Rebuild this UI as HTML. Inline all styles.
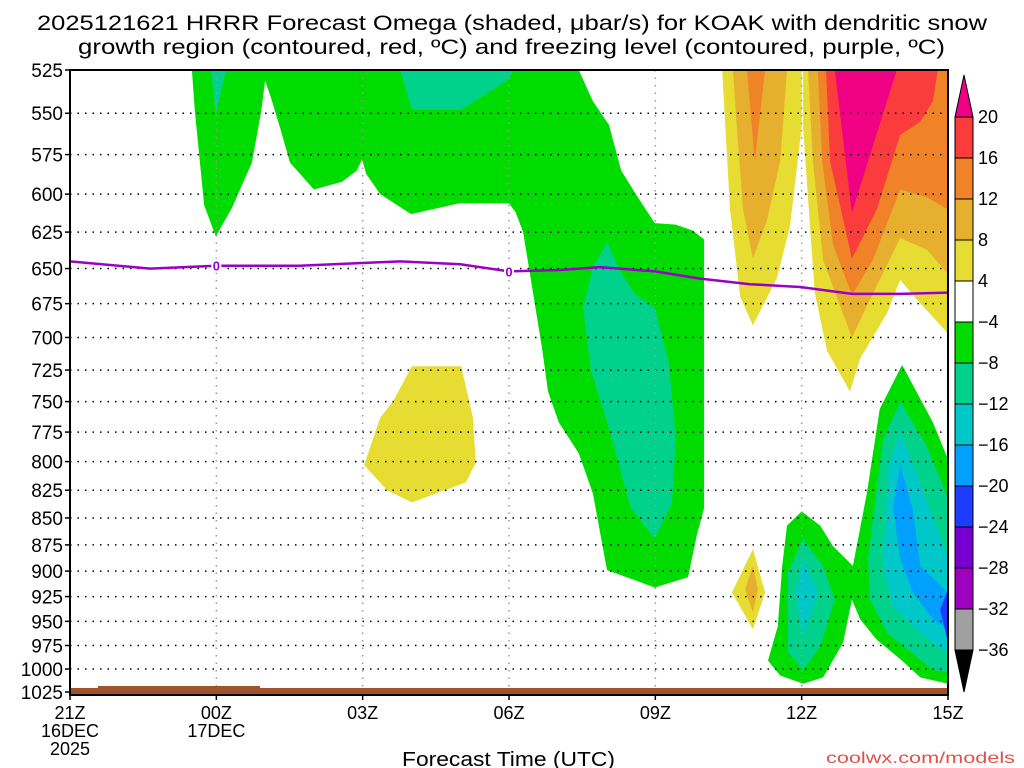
<!DOCTYPE html>
<html><head><meta charset="utf-8"><style>
html,body{margin:0;padding:0;background:#fff;}
svg{display:block;font-family:"Liberation Sans",sans-serif;}
</style></head><body>
<svg id="chart" width="1024" height="768" viewBox="0 0 1024 768">
<defs><clipPath id="plotclip"><rect x="70" y="70" width="878" height="622"/></clipPath></defs>
<text x="37" y="30" font-size="21" textLength="950" lengthAdjust="spacingAndGlyphs">2025121621 HRRR Forecast Omega (shaded, μbar/s) for KOAK with dendritic snow</text>
<text x="78" y="54" font-size="21" textLength="867" lengthAdjust="spacingAndGlyphs">growth region (contoured, red, ºC) and freezing level (contoured, purple, ºC)</text>
<g id="fills" clip-path="url(#plotclip)"></g>
<g id="grid"></g>
<g id="freeze" clip-path="url(#plotclip)"></g>
<g id="axes"></g>
<g id="cbar"></g>
<text x="402" y="766" font-size="20" textLength="213" lengthAdjust="spacingAndGlyphs">Forecast Time (UTC)</text>
<text x="826" y="763" font-size="16" textLength="189" lengthAdjust="spacingAndGlyphs" fill="#e0504a">coolwx.com/models</text>
</svg>
<script>
const pTicks=[525,550,575,600,625,650,675,700,725,750,775,800,825,850,875,900,925,950,975,1000,1025];
const hTicks=[0,3,6,9,12,15,18];
const hLabels=["21Z","00Z","03Z","06Z","09Z","12Z","15Z"];
const hSub1=["16DEC","17DEC","","","","",""];
const hSub2=["2025","","","","","",""];
const cbLevels=[20,16,12,8,4,-4,-8,-12,-16,-20,-24,-28,-32,-36];
const cbColors=["#fa3c3c","#f08228","#e6af2d","#e6dc32","#ffffff","#00dc00","#00d28c","#00c8c8","#00a0ff","#1e3cff","#7800d0","#a000c0","#a0a0a0"];
const cbTopColor="#f00082", cbBottomColor="#000000";
const regGreenMain=[[2.5,525],[2.56,549],[2.75,607],[2.99,628],[3.32,609],[3.73,580],[3.92,549],[4.0,531],[4.12,541],[4.31,559],[4.51,580],[5.0,597],[5.58,592],[5.88,585],[5.99,578],[6.07,587],[6.36,600],[6.99,613],[7.97,606],[9.0,606],[9.14,612],[9.29,625],[9.45,658],[9.68,709],[9.8,742],[10.02,767],[10.43,793],[10.72,828],[11.01,899],[11.99,916],[12.67,906],[12.85,866],[13.0,841],[13.0,630],[12.77,624],[12.42,620],[11.99,619],[11.64,602],[11.3,585],[11.05,557],[10.72,543],[10.43,525]];
const regTealTL=[[2.89,525],[2.99,551],[3.2,525]];
const regTealTop=[[6.77,525],[7.01,548],[8.02,548],[8.96,531],[9.1,525]];
const regTealStripe=[[11.01,632],[10.72,649],[10.52,678],[10.68,725],[11.01,767],[11.5,841],[11.99,869],[12.34,837],[12.42,781],[12.28,720],[11.99,678],[11.58,668],[11.3,653],[11.07,636]];
const regYellowBlob=[[7.01,722],[8.02,722],[8.26,763],[8.32,801],[8.12,818],[7.01,836],[6.5,825],[6.03,803],[6.36,763],[6.62,750]];
const regPlumeYellow=[[13.37,525],[15.0,525],[15.0,558],[14.76,621],[14.49,657],[14.0,691],[13.74,670],[13.53,610]];
const regPlumeGold=[[13.59,525],[14.7,525],[14.56,579],[14.29,617],[14.0,643],[13.8,610],[13.67,558]];
const regPlumeOrange=[[13.88,525],[14.25,525],[14.04,579]];
const regRYellow=[[15.03,525],[18,525],[18,697],[17.36,672],[17.02,658],[16.75,682],[16.2,716],[15.99,742],[15.52,710],[15.27,667],[15.17,621],[15.03,558]];
const regRGold=[[15.13,525],[18,525],[18,654],[17.57,637],[17.02,629],[16.4,672],[16.03,700],[15.44,644],[15.23,579]];
const regROrange=[[15.33,525],[18,525],[18,610],[17.57,602],[17.02,597],[16.46,644],[16.03,669],[15.64,633],[15.42,579]];
const regRRed=[[15.5,525],[17.79,525],[17.69,543],[17.43,555],[17.02,563],[16.54,610],[16.03,643],[15.58,579]];
const regRMagenta=[[15.68,525],[16.95,525],[16.03,612]];
const regSmallYellow=[[14.0,879],[14.25,921],[14.0,958],[13.57,921]];
const regSmallGold=[[14.0,895],[14.1,918],[14.0,941],[13.84,918]];
const regGreenLow=[[15.0,844],[14.7,857],[14.6,895],[14.51,955],[14.31,991],[14.56,1007],[15.03,1016],[15.44,1009],[15.85,972],[16.03,928],[16.2,948],[16.54,969],[17.06,991],[17.43,1009],[18,1016],[18,798],[17.69,767],[17.06,721],[16.6,756],[16.34,827],[16.05,895],[15.64,876],[15.38,857]];
const regTealLowL=[[15.03,869],[14.72,901],[14.72,982],[15.03,1001],[15.38,976],[15.68,928],[15.44,895]];
const regCyanLowL=[[15.03,888],[14.88,921],[15.03,966],[15.33,921]];
const regTealLowR=[[17.02,750],[16.67,781],[16.36,888],[16.4,928],[16.75,962],[17.28,984],[17.69,1001],[18,1004],[18,832],[17.57,787]];
const regCyanLowR=[[17.02,775],[16.77,806],[16.67,895],[16.87,935],[17.43,962],[18,984],[18,888],[17.57,835]];
const regBlue=[[17.02,803],[16.87,840],[17.02,888],[17.28,921],[17.69,948],[18,958],[18,921],[17.43,895],[17.28,842]];
const regDarkBlue=[[18,918],[17.84,938],[18,972]];
const freezeH=[0,1.64,3,4.7,6.77,8,9,10.05,10.86,12,12.9,13.94,14.97,16.03,17.02,18];
const freezeP=[645,650,648,648,645,647,652,651,649,652,657,661,663,668,668,667];
const freezeLabelH=[3,9];
const freezeLabelP=[648,652];

const PX0=70,PX1=948,PY0=70,PY1=692;
const sx=h=>PX0+h*(PX1-PX0)/18;
const sy=p=>PY0+(PY1-PY0)*Math.log(p/525)/Math.log(1025/525);
const NS="http://www.w3.org/2000/svg";
function mk(tag,attrs,parent){const e=document.createElementNS(NS,tag);for(const k in attrs)e.setAttribute(k,attrs[k]);parent.appendChild(e);return e;}
const fills=document.getElementById('fills');
const layers=[
 ["#00dc00",regGreenMain,"green-region-main"],["#00d28c",regTealTL,"teal-region-topleft"],["#00d28c",regTealTop,"teal-region-top"],["#00d28c",regTealStripe,"teal-region-stripe"],
 ["#e6dc32",regYellowBlob,"yellow-region-blob"],
 ["#e6dc32",regPlumeYellow,"yellow-region-plume"],["#e6af2d",regPlumeGold,"gold-region-plume"],["#f08228",regPlumeOrange,"orange-region-plume"],
 ["#e6dc32",regRYellow,"yellow-region-right"],["#e6af2d",regRGold,"gold-region-right"],["#f08228",regROrange,"orange-region-right"],["#fa3c3c",regRRed,"red-region-right"],["#f00082",regRMagenta,"magenta-region-right"],
 ["#e6dc32",regSmallYellow,"yellow-region-small"],["#e6af2d",regSmallGold,"gold-region-small"],
 ["#00dc00",regGreenLow,"green-region-low"],["#00d28c",regTealLowL,"teal-region-low-left"],["#00c8c8",regCyanLowL,"cyan-region-low-left"],
 ["#00d28c",regTealLowR,"teal-region-low-right"],["#00c8c8",regCyanLowR,"cyan-region-low-right"],["#00a0ff",regBlue,"blue-region"],["#1e3cff",regDarkBlue,"darkblue-region"]
];
layers.forEach(L=>{
 const pg=mk('polygon',{points:L[1].map(d=>sx(d[0]).toFixed(1)+','+sy(d[1]).toFixed(1)).join(' '),fill:L[0]},fills);
 
 
});
const grid=document.getElementById('grid');
pTicks.forEach(p=>{
 if(p===525||p===1025)return;
 const l=mk('line',{x1:PX0,x2:PX1,y1:sy(p),y2:sy(p),stroke:'#000','stroke-width':1.5,'stroke-dasharray':'1.5 6'},grid);
 
 
});
hTicks.forEach(h=>{
 if(h===0||h===18)return;
 const l=mk('line',{x1:sx(h),x2:sx(h),y1:PY0,y2:PY1,stroke:'#999','stroke-width':1.5,'stroke-dasharray':'1.5 6'},grid);
 
 
});
const ter=mk('rect',{x:70,y:688,width:878,height:7,fill:'#a0522d'},grid);


const ter2=mk('rect',{x:98,y:686,width:162,height:3,fill:'#a0522d'},grid);


const fz=document.getElementById('freeze');
const fl=mk('polyline',{points:freezeH.map((h,i)=>sx(h).toFixed(1)+','+sy(freezeP[i]).toFixed(1)).join(' '),fill:'none',stroke:'#9b00c8','stroke-width':2.5},fz);


freezeLabelH.forEach((h,i)=>{
 const r=mk('rect',{x:sx(h)-5,y:sy(freezeLabelP[i])-7,width:10,height:14,fill:'#fff'},fz);
 
 
 const t=mk('text',{x:sx(h),y:sy(freezeLabelP[i])+5,'text-anchor':'middle','font-size':13,'font-weight':'bold',fill:'#9b00c8'},fz);
 t.textContent='0';
 
 
});
const ax=document.getElementById('axes');
const fr=mk('rect',{x:PX0,y:PY0,width:PX1-PX0,height:PY1-PY0+3,fill:'none',stroke:'#000','stroke-width':2},ax);


pTicks.forEach(p=>{
 const tk=mk('line',{x1:PX0-5,x2:PX0,y1:sy(p),y2:sy(p),stroke:'#000','stroke-width':1.5},ax);
 
 
 const t=mk('text',{x:63,y:sy(p)+7,'text-anchor':'end','font-size':19},ax);
 t.textContent=String(p);
 
 
});
hTicks.forEach((h,i)=>{
 const tk=mk('line',{x1:sx(h),x2:sx(h),y1:PY1+3,y2:PY1+8,stroke:'#000','stroke-width':1.5},ax);
 
 
 [hLabels[i],hSub1[i],hSub2[i]].forEach((s,j)=>{
  if(!s)return;
  const t=mk('text',{x:sx(h),y:719+j*18,'text-anchor':'middle','font-size':18},ax);
  t.textContent=s;
  
  
 });
});
const cb=document.getElementById('cbar');
const CX=955,CW=18,CT=117,CS=41;
const cbTopArrow=mk('polygon',{points:`${CX},${CT} ${CX+CW},${CT} ${CX+CW/2},${CT-42}`,fill:cbTopColor,stroke:'#000'},cb);


cbColors.forEach((c,i)=>{
 const r=mk('rect',{x:CX,y:CT+i*CS,width:CW,height:CS,fill:c,stroke:'#000'},cb);
 
 
});
const cbYB=CT+cbColors.length*CS;
const cbBotArrow=mk('polygon',{points:`${CX},${cbYB} ${CX+CW},${cbYB} ${CX+CW/2},${cbYB+42}`,fill:cbBottomColor,stroke:'#000'},cb);


cbLevels.forEach((v,i)=>{
 const t=mk('text',{x:CX+CW+5,y:CT+i*CS+6,'font-size':18},cb);
 t.textContent=(v<0?'\u2212'+Math.abs(v):String(v));
 
 
});
</script>
</body></html>
